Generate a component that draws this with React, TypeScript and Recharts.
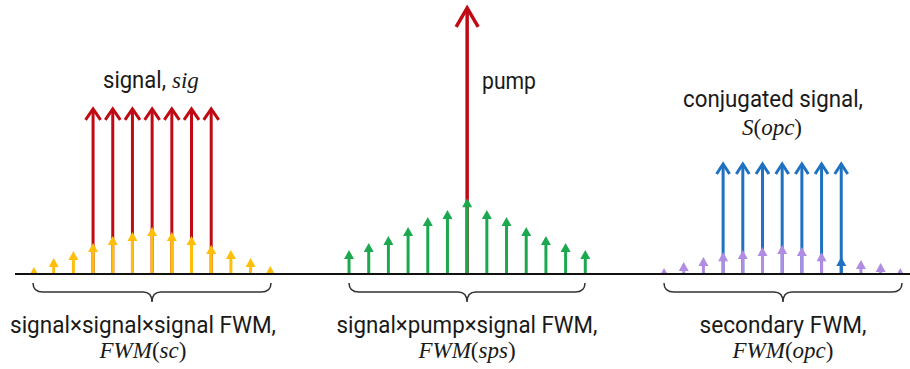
import { ComposedChart, Bar, XAxis, YAxis, Cell, Customized } from 'recharts';

// frequency slots (equally spaced), 13 lines per FWM group
const slots = Array.from({ length: 45 }, (_, i) => i);

// signal×signal×signal FWM, slots 0..12
const scFWM = [2.6, 5.9, 8.5, 11.5, 14.1, 15.6, 17.4, 15.6, 14.1, 10.7, 8.9, 5.9, 3.0];
// signal channels, slots 3..9
const signalPow = [61.5, 61.5, 61.5, 61.5, 61.5, 61.5, 61.5];
// signal×pump×signal FWM, slots 16..28
const spsFWM = [8.9, 11.5, 14.1, 17.4, 21.1, 23.7, 28.1, 23.7, 21.1, 17.4, 14.1, 11.5, 8.9];
// pump, slot 22
const pumpPow = 98.9;
// secondary FWM, slots 32..44
const opcFWM = [2.2, 4.4, 6.3, 8.1, 8.9, 10.0, 10.7, 10.0, 8.1, 6.3, 5.2, 4.1, 2.2];
// conjugated signal, slots 35..41
const conjPow = [41.1, 41.1, 41.1, 41.1, 41.1, 41.1, 41.1];

const rows = slots.map((k) => ({
  k,
  sc: k <= 12 ? scFWM[k] : null,
  sig: k >= 3 && k <= 9 ? signalPow[k - 3] : null,
  sps: k >= 16 && k <= 28 ? spsFWM[k - 16] : null,
  pump: k === 22 ? pumpPow : null,
  opc: k >= 32 ? opcFWM[k - 32] : null,
  conj: k >= 35 && k <= 41 ? conjPow[k - 35] : null,
}));

const RED = '#C00A14';
const YELLOW = '#FFBE0A';
const GREEN = '#1CA84E';
const BLUE = '#1F72C2';
const PURPLE = '#B08CE2';
const INK = '#1a1a1a';
const SANS = 'Roboto, "Noto Sans", Arial, sans-serif';
const SERIF = '"Liberation Serif", "DejaVu Serif", serif';
const FS = 23;
const FS_MATH = 23;

function arrow(open: boolean, hw: number, hh: number, sw: number) {
  return (props: any) => {
    const { x, y, width, height, fill } = props;
    if (height == null || height <= 0 || isNaN(y)) return <g />;
    const cx = x + width / 2;
    const base = y + height;
    if (open) {
      return (
        <g>
          <line x1={cx} y1={base} x2={cx} y2={y + 1} stroke={fill} strokeWidth={sw} />
          <path d={`M${cx - hw},${y + hh} L${cx},${y + 1} L${cx + hw},${y + hh}`} fill="none" stroke={fill} strokeWidth={sw} />
        </g>
      );
    }
    return (
      <g>
        <line x1={cx} y1={base} x2={cx} y2={y + hh} stroke={fill} strokeWidth={sw} />
        <path d={`M${cx - hw},${y + hh} L${cx},${y} L${cx + hw},${y + hh} Z`} fill={fill} />
      </g>
    );
  };
}

function brace(x1: number, x2: number, cx: number) {
  const t = 283, m = 292, b = 302;
  return `M${x1},${t} Q${x1},${m} ${x1 + 10},${m} L${cx - 9},${m} Q${cx},${m} ${cx},${b} Q${cx},${m} ${cx + 9},${m} L${x2 - 10},${m} Q${x2},${m} ${x2},${t}`;
}

function Label({ x, y, w, children, anchor = 'middle' }: any) {
  return (
    <text x={x} y={y} textAnchor={anchor} fontFamily={SANS} fontSize={FS} textLength={w} lengthAdjust="spacingAndGlyphs">
      {children}
    </text>
  );
}

function Notes() {
  return (
    <g fill={INK}>
      <text x={103} y={88} fontFamily={SANS} fontSize={FS} textLength={63} lengthAdjust="spacingAndGlyphs">signal,</text>
      <text x={172} y={88} fontFamily={SERIF} fontStyle="italic" fontSize={FS_MATH}>sig</text>
      <Label x={482} y={89} w={54} anchor="start">pump</Label>
      <Label x={773} y={107} w={180}>conjugated signal,</Label>
      <text x={772} y={135} textAnchor="middle" fontFamily={SERIF} fontSize={FS_MATH}>
        <tspan fontStyle="italic">S</tspan>(<tspan fontStyle="italic">opc</tspan>)
      </text>

      <path d={brace(33, 271, 152)} fill="none" stroke="#333" strokeWidth={1.5} />
      <path d={brace(349, 585, 467)} fill="none" stroke="#333" strokeWidth={1.5} />
      <path d={brace(664, 902, 783)} fill="none" stroke="#333" strokeWidth={1.5} />

      <Label x={143} y={333} w={266}>signal×signal×signal FWM,</Label>
      <text x={143} y={358} textAnchor="middle" fontFamily={SERIF} fontSize={FS_MATH}>
        <tspan fontStyle="italic">FWM</tspan>(<tspan fontStyle="italic">sc</tspan>)
      </text>
      <Label x={467} y={333} w={261}>signal×pump×signal FWM,</Label>
      <text x={467} y={358} textAnchor="middle" fontFamily={SERIF} fontSize={FS_MATH}>
        <tspan fontStyle="italic">FWM</tspan>(<tspan fontStyle="italic">sps</tspan>)
      </text>
      <Label x={783} y={333} w={167}>secondary FWM,</Label>
      <text x={783} y={358} textAnchor="middle" fontFamily={SERIF} fontSize={FS_MATH}>
        <tspan fontStyle="italic">FWM</tspan>(<tspan fontStyle="italic">opc</tspan>)
      </text>
    </g>
  );
}

export default function App() {
  return (
    <div style={{ background: '#fff', width: 910, height: 369 }}>
      <style>{'body{margin:0}'}</style>
      <ComposedChart
        width={910}
        height={369}
        data={rows}
        margin={{ top: 4, right: 0, bottom: 94, left: 15 }}
        barSize={16}
        barGap={-16}
      >
        <XAxis dataKey="k" type="category" height={1} tick={false} tickLine={false} axisLine={{ stroke: '#111', strokeWidth: 2 }} padding={{ left: 9, right: 0 }} />
        <YAxis hide domain={[0, 100]} allowDataOverflow />
        <Bar dataKey="sig" fill={RED} isAnimationActive={false} shape={arrow(true, 7.5, 12, 3)} />
        <Bar dataKey="sc" fill={YELLOW} isAnimationActive={false} shape={arrow(false, 5, 9, 3)} />
        <Bar dataKey="pump" fill={RED} isAnimationActive={false} shape={arrow(true, 11, 20, 3.5)} />
        <Bar dataKey="sps" fill={GREEN} isAnimationActive={false} shape={arrow(false, 5, 9, 3)} />
        <Bar dataKey="conj" fill={BLUE} isAnimationActive={false} shape={arrow(true, 6.5, 11, 3)} />
        <Bar dataKey="opc" fill={PURPLE} isAnimationActive={false} shape={arrow(false, 5, 9, 3)}>
          {rows.map((r) => (
            <Cell key={r.k} fill={r.k === 41 ? BLUE : PURPLE} />
          ))}
        </Bar>
        <Customized component={Notes} />
      </ComposedChart>
    </div>
  );
}
